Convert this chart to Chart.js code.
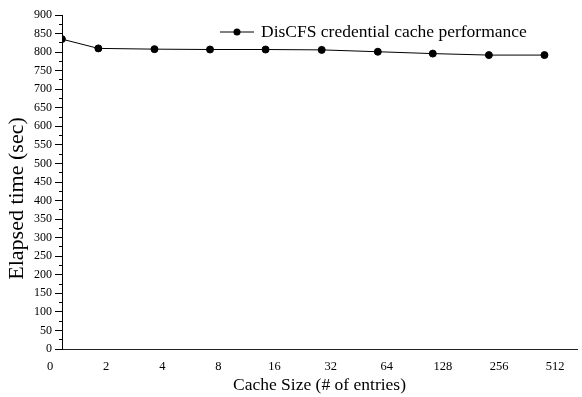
<!DOCTYPE html>
<html>
<head>
<meta charset="utf-8">
<script src="https://cdn.jsdelivr.net/npm/chart.js@4"></script>
<style>
  html, body { margin: 0; padding: 0; background: #fff; }
  #wrap { width: 582px; height: 397px; }
</style>
</head>
<body>
<div id="wrap"><canvas id="chart"></canvas></div>
<script>
// values
const xLabels = ["0", "2", "4", "8", "16", "32", "64", "128", "256", "512"];
const xPos = [0.21, 0.86, 1.86, 2.85, 3.84, 4.84, 5.84, 6.82, 7.82, 8.81];
const elapsed = [835, 810, 808, 807, 807, 806, 801, 796, 792, 792];
const seriesName = "DisCFS credential cache performance";

const serif = "'Liberation Serif', 'Times New Roman', serif";

// legend drawn as line + dot + text, top right
const lineLegend = {
  id: "lineLegend",
  afterDraw(chart) {
    const ctx = chart.ctx;
    const x = 220, y = 32;
    ctx.save();
    ctx.strokeStyle = "#000";
    ctx.lineWidth = 1;
    ctx.beginPath();
    ctx.moveTo(x, y);
    ctx.lineTo(x + 34, y);
    ctx.stroke();
    ctx.fillStyle = "#000";
    ctx.beginPath();
    ctx.arc(x + 17, y, 3.5, 0, Math.PI * 2);
    ctx.fill();
    ctx.font = "17.5px " + serif;
    ctx.textBaseline = "middle";
    ctx.fillText(seriesName, x + 41, y);
    ctx.restore();
  },
};

new Chart(document.getElementById("chart"), {
  type: "line",
  data: {
    datasets: [
      {
        label: seriesName,
        data: xPos.map((x, i) => ({ x: x, y: elapsed[i] })),
        borderColor: "#000",
        backgroundColor: "#000",
        borderWidth: 1,
        pointRadius: 3.5,
        pointBackgroundColor: "#000",
        tension: 0,
      },
    ],
  },
  options: {
    responsive: true,
    maintainAspectRatio: false,
    animation: false,
    layout: { padding: { top: 15, right: 0, left: 0, bottom: 0 } },
    plugins: {
      legend: { display: false },
      tooltip: { enabled: false },
    },
    scales: {
      x: {
        type: "linear",
        min: 0.212,
        max: 9.39,
        afterBuildTicks: (scale) => {
          scale.ticks = xLabels.map((l, i) => ({ value: i }));
        },
        afterFit: (scale) => {
          scale.height = 48;
        },
        grid: { display: false, drawTicks: false },
        border: { display: true, color: "#222", width: 1 },
        ticks: {
          autoSkip: false,
          maxRotation: 0,
          padding: 10,
          color: "#000",
          font: { family: serif, size: 12.5 },
          callback: (v, i) => xLabels[i],
        },
        title: {
          display: true,
          text: "Cache Size (# of entries)",
          color: "#000",
          font: { family: serif, size: 17.5 },
          padding: { top: 0, bottom: 1 },
        },
      },
      yMinor: {
        position: "left",
        weight: 0,
        min: 0,
        max: 900,
        ticks: { display: false, stepSize: 25 },
        grid: { drawOnChartArea: false, tickLength: 3, tickColor: "#000" },
        border: { display: false },
        afterFit: (scale) => {
          scale.width = 0;
        },
      },
      y: {
        position: "left",
        weight: 1,
        min: 0,
        max: 900,
        afterFit: (scale) => {
          scale.width = 62;
        },
        grid: { drawOnChartArea: false, tickLength: 7, tickColor: "#000" },
        border: { display: true, color: "#000", width: 1 },
        ticks: {
          stepSize: 50,
          padding: 3,
          color: "#000",
          font: { family: serif, size: 12 },
        },
        title: {
          display: true,
          // trailing spaces move the title down a little, as in the original
          text: "Elapsed time (sec)\u00a0\u00a0\u00a0\u00a0\u00a0\u00a0",
          color: "#000",
          font: { family: serif, size: 22 },
          padding: { top: 4, bottom: 0 },
        },
      },
    },
  },
  plugins: [lineLegend],
});
</script>
</body>
</html>
